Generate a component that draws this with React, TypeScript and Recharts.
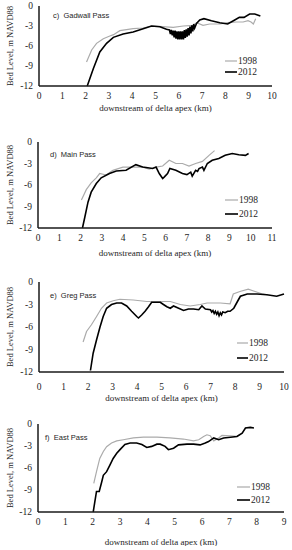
import { LineChart, Line, XAxis, YAxis } from 'recharts';

type Pt = [number, number];

// km downstream of delta apex, bed level (m NAVD88)
const gadwall1998: Pt[] = [
  [2.04, -8.4], [2.26, -6.6], [2.47, -5.6], [2.76, -4.9], [3.04, -4.5], [3.2, -4.3], [3.47, -3.7],
  [4.04, -3.4], [4.47, -3.3], [4.83, -3.0], [5.3, -3.1], [5.76, -3.2], [6.19, -3.0], [6.63, -2.9],
  [6.76, -2.5], [7.04, -2.9], [7.33, -2.7], [7.76, -2.7], [8.1, -2.5], [8.47, -2.4], [8.76, -2.4],
  [8.97, -2.2], [9.1, -2.4], [9.2, -2.7], [9.3, -1.9],
];
const gadwall2012: Pt[] = [
  [2.07, -12], [2.33, -9.4], [2.61, -6.9], [2.9, -5.6], [3.19, -4.7], [3.61, -4.2], [4.04, -3.9],
  [4.47, -3.4], [4.83, -3.0], [5.19, -3.1], [5.47, -3.5],
  [5.6, -3.6], [5.64, -4.2], [5.68, -3.6], [5.72, -4.4], [5.76, -3.7], [5.8, -4.7], [5.84, -3.7],
  [5.88, -4.9], [5.92, -3.8], [5.96, -5.0], [6.0, -3.8], [6.04, -5.0], [6.08, -3.8], [6.12, -5.0],
  [6.16, -3.8], [6.2, -5.0], [6.24, -3.6], [6.28, -4.8], [6.32, -3.5], [6.36, -4.6], [6.4, -3.3],
  [6.44, -4.4], [6.48, -3.1], [6.52, -4.1], [6.56, -2.9], [6.6, -3.8], [6.64, -2.7], [6.68, -3.3],
  [6.76, -2.6], [6.9, -2.1], [7.08, -1.9], [7.4, -2.2], [7.76, -2.5], [8.1, -2.7], [8.4, -2.1],
  [8.6, -1.7], [8.8, -1.7], [9.04, -1.2], [9.26, -1.2], [9.5, -1.5],
];

const main1998: Pt[] = [
  [2.04, -8.1], [2.27, -6.65], [2.5, -5.7], [2.74, -5.0], [2.9, -4.4], [3.2, -4.6], [3.52, -3.95],
  [3.99, -3.5], [4.45, -3.5], [4.92, -3.5], [5.23, -3.8], [5.55, -3.5], [5.86, -3.35], [6.17, -2.55],
  [6.48, -3.0], [6.79, -3.0], [7.1, -3.35], [7.41, -3.0], [7.73, -2.7], [8.04, -1.86], [8.3, -1.2],
];
const main2012: Pt[] = [
  [2.09, -12], [2.2, -10.5], [2.35, -8.4], [2.5, -7.0], [2.74, -5.8], [2.97, -5.0], [3.36, -4.4],
  [3.68, -4.05], [4.14, -3.95], [4.6, -3.16], [4.92, -3.5], [5.39, -3.7], [5.55, -3.5], [5.7, -4.4],
  [5.86, -5.1], [5.93, -4.9], [6.09, -4.4], [6.2, -3.7], [6.48, -3.95], [6.79, -4.4], [7.0, -4.55],
  [7.18, -4.2], [7.25, -4.75], [7.41, -3.95], [7.5, -4.1], [7.57, -3.7], [7.73, -3.5], [7.8, -3.95],
  [7.96, -3.0], [8.19, -2.55], [8.5, -2.3], [8.8, -1.86], [9.13, -1.6], [9.44, -1.77], [9.75, -1.86],
  [9.9, -1.6],
];

const greg1998: Pt[] = [
  [1.8, -8.0], [1.94, -6.6], [2.14, -5.7], [2.35, -4.6], [2.55, -3.5], [2.76, -2.8], [3.03, -2.5],
  [3.3, -2.3], [3.85, -2.4], [4.4, -2.6], [4.95, -2.6], [5.36, -2.6], [5.77, -3.0], [6.17, -3.2],
  [6.58, -3.0], [6.86, -2.8], [7.13, -2.8], [7.4, -2.8], [7.8, -2.9], [7.93, -1.6], [8.2, -1.26],
  [8.54, -0.95], [8.82, -1.26], [9.09, -1.57], [9.3, -1.7],
];
const greg2012: Pt[] = [
  [2.1, -11.8], [2.21, -9.5], [2.35, -7.7], [2.49, -6.0], [2.62, -4.6], [2.76, -3.5], [2.96, -3.0],
  [3.17, -2.8], [3.37, -2.8], [3.58, -3.2], [3.78, -3.9], [3.99, -4.6], [4.06, -4.8], [4.19, -4.4],
  [4.33, -3.9], [4.47, -3.3], [4.6, -2.7], [4.81, -2.7], [4.95, -2.7], [5.08, -3.0], [5.22, -3.3],
  [5.36, -3.5], [5.49, -3.2], [5.7, -3.5], [5.9, -3.8], [6.1, -3.6], [6.31, -3.6], [6.52, -3.7],
  [6.65, -3.2], [6.79, -3.6], [7.0, -3.7], [7.05, -4.0], [7.1, -3.8], [7.15, -4.2], [7.2, -3.9],
  [7.25, -4.3], [7.3, -4.0], [7.35, -4.5], [7.4, -4.1], [7.45, -4.4], [7.5, -4.0], [7.6, -4.1],
  [7.7, -3.9], [7.8, -3.9], [7.95, -3.5], [8.1, -2.6], [8.22, -1.9], [8.5, -1.6], [8.9, -1.6],
  [9.3, -1.7], [9.7, -1.9], [10.0, -1.6],
];

const east1998: Pt[] = [
  [2.04, -8.1], [2.14, -6.5], [2.26, -4.7], [2.39, -3.75], [2.51, -3.1], [2.69, -2.6], [2.88, -2.3],
  [3.12, -2.15], [3.49, -1.9], [3.86, -1.8], [4.35, -1.8], [4.83, -1.9], [5.32, -2.05], [5.69, -2.3],
  [5.88, -2.15], [6.06, -1.7], [6.18, -1.47], [6.3, -1.6], [6.43, -2.3], [6.61, -1.9], [6.73, -1.56],
  [7.04, -1.6], [7.28, -1.7], [7.4, -1.4],
];
const east2012: Pt[] = [
  [2.02, -12], [2.08, -10.6], [2.14, -9.2], [2.24, -9.2], [2.33, -7.9], [2.39, -7.0], [2.51, -6.5],
  [2.63, -5.6], [2.75, -4.7], [2.88, -4.0], [3.0, -3.5], [3.18, -2.8], [3.37, -2.6], [3.61, -2.6],
  [3.8, -2.8], [3.98, -3.2], [4.16, -3.05], [4.35, -2.75], [4.47, -2.75], [4.65, -3.05], [4.77, -3.5],
  [4.96, -3.3], [5.14, -2.85], [5.45, -2.75], [5.69, -2.75], [5.93, -2.85], [6.12, -2.6], [6.24, -2.4],
  [6.43, -1.9], [6.61, -2.15], [6.79, -1.9], [7.04, -1.8], [7.28, -1.7], [7.47, -1.24], [7.59, -0.55],
  [7.77, -0.46], [7.9, -0.55],
];

const yTicks = [-12, -9, -6, -3, 0];
const ticks9 = [0, 1, 2, 3, 4, 5, 6, 7, 8, 9];
const ticks10 = [0, 1, 2, 3, 4, 5, 6, 7, 8, 9, 10];
const ticks11 = [0, 1, 2, 3, 4, 5, 6, 7, 8, 9, 10, 11];

const toRows = (pts: Pt[]) => pts.map(([km, v]) => ({ km, v }));

const SERIF = 'Liberation Serif';
const SANS = 'Liberation Sans';
const BOX = '#1a1a1a';
const TXT = '#1e1e1e';

interface PanelProps {
  title: string;
  top: number;
  bottom: number;
  left: number;
  right: number;
  xMax: number;
  xTicks: number[];
  tickGap: number;
  labelGap: number;
  titleX: number;
  titleY: number;
  legX1: number;
  legX2: number;
  legY1: number;
  legY2: number;
  old: Pt[];
  recent: Pt[];
}

function Panel(p: PanelProps) {
  const axisH = 34;
  const h = p.bottom - p.top + 6 + axisH;
  const tickFont = { fontFamily: SERIF, fontSize: 9.5, fill: TXT, style: { fontFamily: SERIF } };
  return (
    <>
      <div style={{ position: 'absolute', left: 0, top: p.top - 6 }}>
        <LineChart width={292} height={h} margin={{ top: 6, right: 292 - p.right, bottom: 0, left: 0 }}>
          <XAxis
            dataKey="km"
            type="number"
            domain={[0, p.xMax]}
            ticks={p.xTicks}
            height={axisH}
            tickSize={0}
            tickLine={false}
            tickMargin={p.tickGap - 3.5}
            tick={tickFont}
            axisLine={{ stroke: BOX, strokeWidth: 1.5 }}
            label={{
              value: 'downstream  of delta apex (km)',
              position: 'insideBottom',
              offset: 31 - p.labelGap,
              style: { fontFamily: SERIF, fontSize: 9, fill: TXT },
            }}
          />
          <XAxis
            xAxisId="top"
            orientation="top"
            dataKey="km"
            type="number"
            domain={[0, p.xMax]}
            height={0}
            tick={false}
            tickLine={false}
            axisLine={{ stroke: BOX, strokeWidth: 1.5 }}
          />
          <YAxis
            type="number"
            domain={[-12, 0]}
            ticks={yTicks}
            width={p.left}
            tickSize={0}
            tickLine={false}
            tickMargin={6}
            tick={tickFont}
            axisLine={{ stroke: BOX, strokeWidth: 1.5 }}
            label={{
              value: 'Bed Level, m NAVD88',
              angle: -90,
              position: 'insideLeft',
              offset: 10,
              style: { fontFamily: SERIF, fontSize: 8.5, fill: TXT, textAnchor: 'middle' },
            }}
          />
          <YAxis
            yAxisId="right"
            orientation="right"
            type="number"
            domain={[-12, 0]}
            width={0}
            tick={false}
            tickLine={false}
            axisLine={{ stroke: BOX, strokeWidth: 1.5 }}
          />
          <Line
            data={toRows(p.old)}
            dataKey="v"
            type="linear"
            stroke="#ababab"
            strokeWidth={1.2}
            dot={false}
            isAnimationActive={false}
          />
          <Line
            data={toRows(p.recent)}
            dataKey="v"
            type="linear"
            stroke="#000"
            strokeWidth={1.6}
            dot={false}
            isAnimationActive={false}
          />
        </LineChart>
      </div>
      <div
        style={{
          position: 'absolute',
          left: p.titleX,
          top: p.titleY - 5,
          fontFamily: SANS,
          fontSize: 7.5,
          lineHeight: '10px',
          color: TXT,
          whiteSpace: 'pre',
        }}
      >
        {p.title}
      </div>
      <svg style={{ position: 'absolute', left: 0, top: 0, overflow: 'visible' }} width={1} height={1}>
        <line x1={p.legX1} x2={p.legX2} y1={p.legY1} y2={p.legY1} stroke="#ababab" strokeWidth={1.2} />
        <text x={p.legX2 + 1} y={p.legY1 + 3.3} fontFamily={SERIF} fontSize={9.5} fill={TXT}>1998</text>
        <line x1={p.legX1} x2={p.legX2} y1={p.legY2} y2={p.legY2} stroke="#000" strokeWidth={1.6} />
        <text x={p.legX2 + 1} y={p.legY2 + 3.3} fontFamily={SERIF} fontSize={9.5} fill={TXT}>2012</text>
      </svg>
    </>
  );
}

export default function App() {
  return (
    <div
      style={{
        position: 'absolute',
        left: 0,
        top: 0,
        width: 292,
        height: 550,
        background: '#fff',
        fontFamily: SERIF,
      }}
    >
      <Panel
        title="c)  Gadwall Pass"
        top={6} bottom={86} left={39} right={272}
        xMax={10} xTicks={ticks10} tickGap={10} labelGap={22}
        titleX={53} titleY={16}
        legX1={225} legX2={237} legY1={61} legY2={72}
        old={gadwall1998} recent={gadwall2012}
      />
      <Panel
        title="d)  Main Pass"
        top={142} bottom={228} left={38} right={272}
        xMax={11} xTicks={ticks11} tickGap={10} labelGap={25}
        titleX={50} titleY={155}
        legX1={225} legX2={238} legY1={200} legY2={214}
        old={main1998} recent={main2012}
      />
      <Panel
        title="e)  Greg Pass"
        top={282} bottom={372} left={39} right={284}
        xMax={10} xTicks={ticks10} tickGap={15} labelGap={26}
        titleX={50} titleY={296}
        legX1={237} legX2={248} legY1={343} legY2={358}
        old={greg1998} recent={greg2012}
      />
      <Panel
        title="f)  East Pass"
        top={424} bottom={512} left={38} right={284}
        xMax={9} xTicks={ticks9} tickGap={10} labelGap={30}
        titleX={45} titleY={438}
        legX1={237} legX2={250} legY1={487} legY2={500}
        old={east1998} recent={east2012}
      />
    </div>
  );
}
